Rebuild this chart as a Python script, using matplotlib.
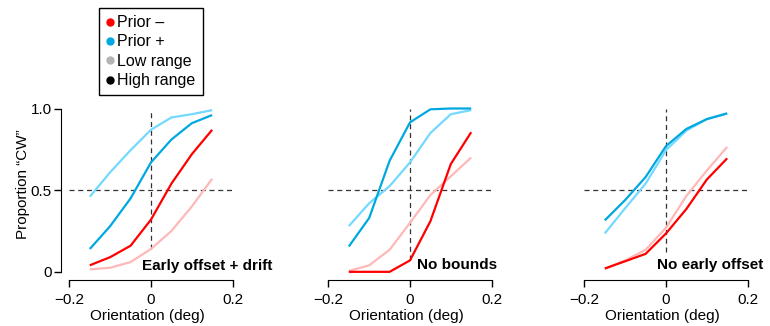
import numpy as np
import matplotlib
matplotlib.use("Agg")
import matplotlib.pyplot as plt
from matplotlib.lines import Line2D

plt.rcParams["font.family"] = ["Liberation Sans", "DejaVu Sans"]
plt.rcParams["font.size"] = 11

# ---------------------------------
# Data
# ---------------------------------
orientation = [-0.15, -0.10, -0.05, 0.0, 0.05, 0.10, 0.15]

panel_titles = ["Early offset + drift", "No bounds", "No early offset"]

# panel 1 - early offset + drift
p1_plus_low = [0.46, 0.61, 0.745, 0.87, 0.945, 0.965, 0.99]
p1_plus_high = [0.14, 0.28, 0.45, 0.67, 0.81, 0.91, 0.96]
p1_minus_high = [0.04, 0.09, 0.16, 0.32, 0.54, 0.72, 0.87]
p1_minus_low = [0.015, 0.025, 0.06, 0.14, 0.25, 0.40, 0.57]

# panel 2 - no bounds
p2_plus_low = [0.28, 0.42, 0.525, 0.67, 0.85, 0.965, 0.99]
p2_plus_high = [0.155, 0.33, 0.68, 0.915, 0.995, 1.0, 1.0]
p2_minus_high = [0.0, 0.0, 0.0, 0.07, 0.31, 0.66, 0.855]
p2_minus_low = [0.005, 0.04, 0.135, 0.30, 0.47, 0.585, 0.70]

# panel 3 - no early offset
p3_plus_low = [0.235, 0.39, 0.54, 0.745, 0.865, 0.935, 0.97]
p3_plus_high = [0.315, 0.44, 0.58, 0.77, 0.875, 0.935, 0.97]
p3_minus_high = [0.02, 0.065, 0.11, 0.235, 0.385, 0.565, 0.695]
p3_minus_low = [0.02, 0.07, 0.135, 0.27, 0.465, 0.62, 0.765]

panels = [
    (p1_plus_low, p1_plus_high, p1_minus_low, p1_minus_high),
    (p2_plus_low, p2_plus_high, p2_minus_low, p2_minus_high),
    (p3_plus_low, p3_plus_high, p3_minus_low, p3_minus_high),
]

# ---------------------------------
# Style
# ---------------------------------
red_high = "#ff0000"
red_low = "#ffb8b8"
blue_high = "#00a8e0"
blue_low = "#74d9ff"

W, H = 770, 326
fig = plt.figure(figsize=(W / 100, H / 100), dpi=100)

x_scale = 408.0          # pixels per data unit
zero_px = [151, 410, 666]
dash_bottom = [0.14, 0.07, 0.12]
label_pos = [(-0.021, 0.035), (0.018, 0.04), (-0.021, 0.04)]
y_top, y_bot = 108.5, 280.0
xmin, xmax = -0.22, 0.2
ymin, ymax = -0.05, 1.0

for i, (plus_low, plus_high, minus_low, minus_high) in enumerate(panels):
    left = zero_px[i] + xmin * x_scale
    width = (xmax - xmin) * x_scale
    ax = fig.add_axes([left / W, (H - y_bot) / H, width / W, (y_bot - y_top) / H])
    ax.set_xlim(xmin, xmax)
    ax.set_ylim(ymin, ymax)

    ax.plot([0, 0], [dash_bottom[i], 1.0], ls=(0, (4, 3)), color="#333333", lw=0.9, zorder=1)
    ax.plot([-0.2, 0.2], [0.5, 0.5], ls=(0, (4, 3)), color="#333333", lw=0.9, zorder=1)

    kw = dict(lw=1.6, solid_capstyle="butt", clip_on=False, zorder=2)
    ax.plot(orientation, minus_low, color=red_low, **kw)
    ax.plot(orientation, plus_low, color=blue_low, **kw)
    ax.plot(orientation, minus_high, color=red_high, **kw)
    ax.plot(orientation, plus_high, color=blue_high, **kw)

    ax.text(label_pos[i][0], label_pos[i][1], panel_titles[i], fontweight="bold",
            ha="left", va="center", fontsize=11)

    for s in ["top", "right"]:
        ax.spines[s].set_visible(False)
    ax.spines["bottom"].set_bounds(-0.2, 0.2)
    ax.set_xticks([-0.2, 0, 0.2])
    ax.set_xticklabels(["\u22120.2", "0", "0.2"])
    ax.tick_params(direction="out", length=5, width=1, labelsize=11)
    ax.tick_params(axis="x", pad=4)
    ax.tick_params(axis="y", pad=2)
    ax.set_xlabel("Orientation (deg)", fontsize=11, labelpad=2)

    if i == 0:
        ax.spines["left"].set_bounds(0, 1)
        ax.set_yticks([0, 0.5, 1.0])
        ax.set_yticklabels(["0", "0.5", "1.0"])
        ax.set_ylabel("Proportion \u201cCW\u201d", fontsize=11)
        ax.yaxis.set_label_coords(-0.18, 0.56)
    else:
        ax.spines["left"].set_visible(False)
        ax.set_yticks([])

# ---------------------------------
# Legend
# ---------------------------------
handles = [
    Line2D([], [], marker="o", ls="", color=red_high, markersize=5),
    Line2D([], [], marker="o", ls="", color=blue_high, markersize=5),
    Line2D([], [], marker="o", ls="", color="#b4b4b4", markersize=5),
    Line2D([], [], marker="o", ls="", color="black", markersize=5),
]
labels = ["Prior \u2013", "Prior +", "Low range", "High range"]
leg = fig.legend(handles, labels, loc="upper left", bbox_to_anchor=(99 / W, 1 - 8 / H),
                 frameon=True, fancybox=False, edgecolor="black", framealpha=1,
                 borderpad=0.45, handletextpad=0.2, handlelength=0.5,
                 labelspacing=0.27, borderaxespad=0, fontsize=11.5)
leg.get_frame().set_linewidth(1.0)

fig.savefig("out.png", dpi=100)
